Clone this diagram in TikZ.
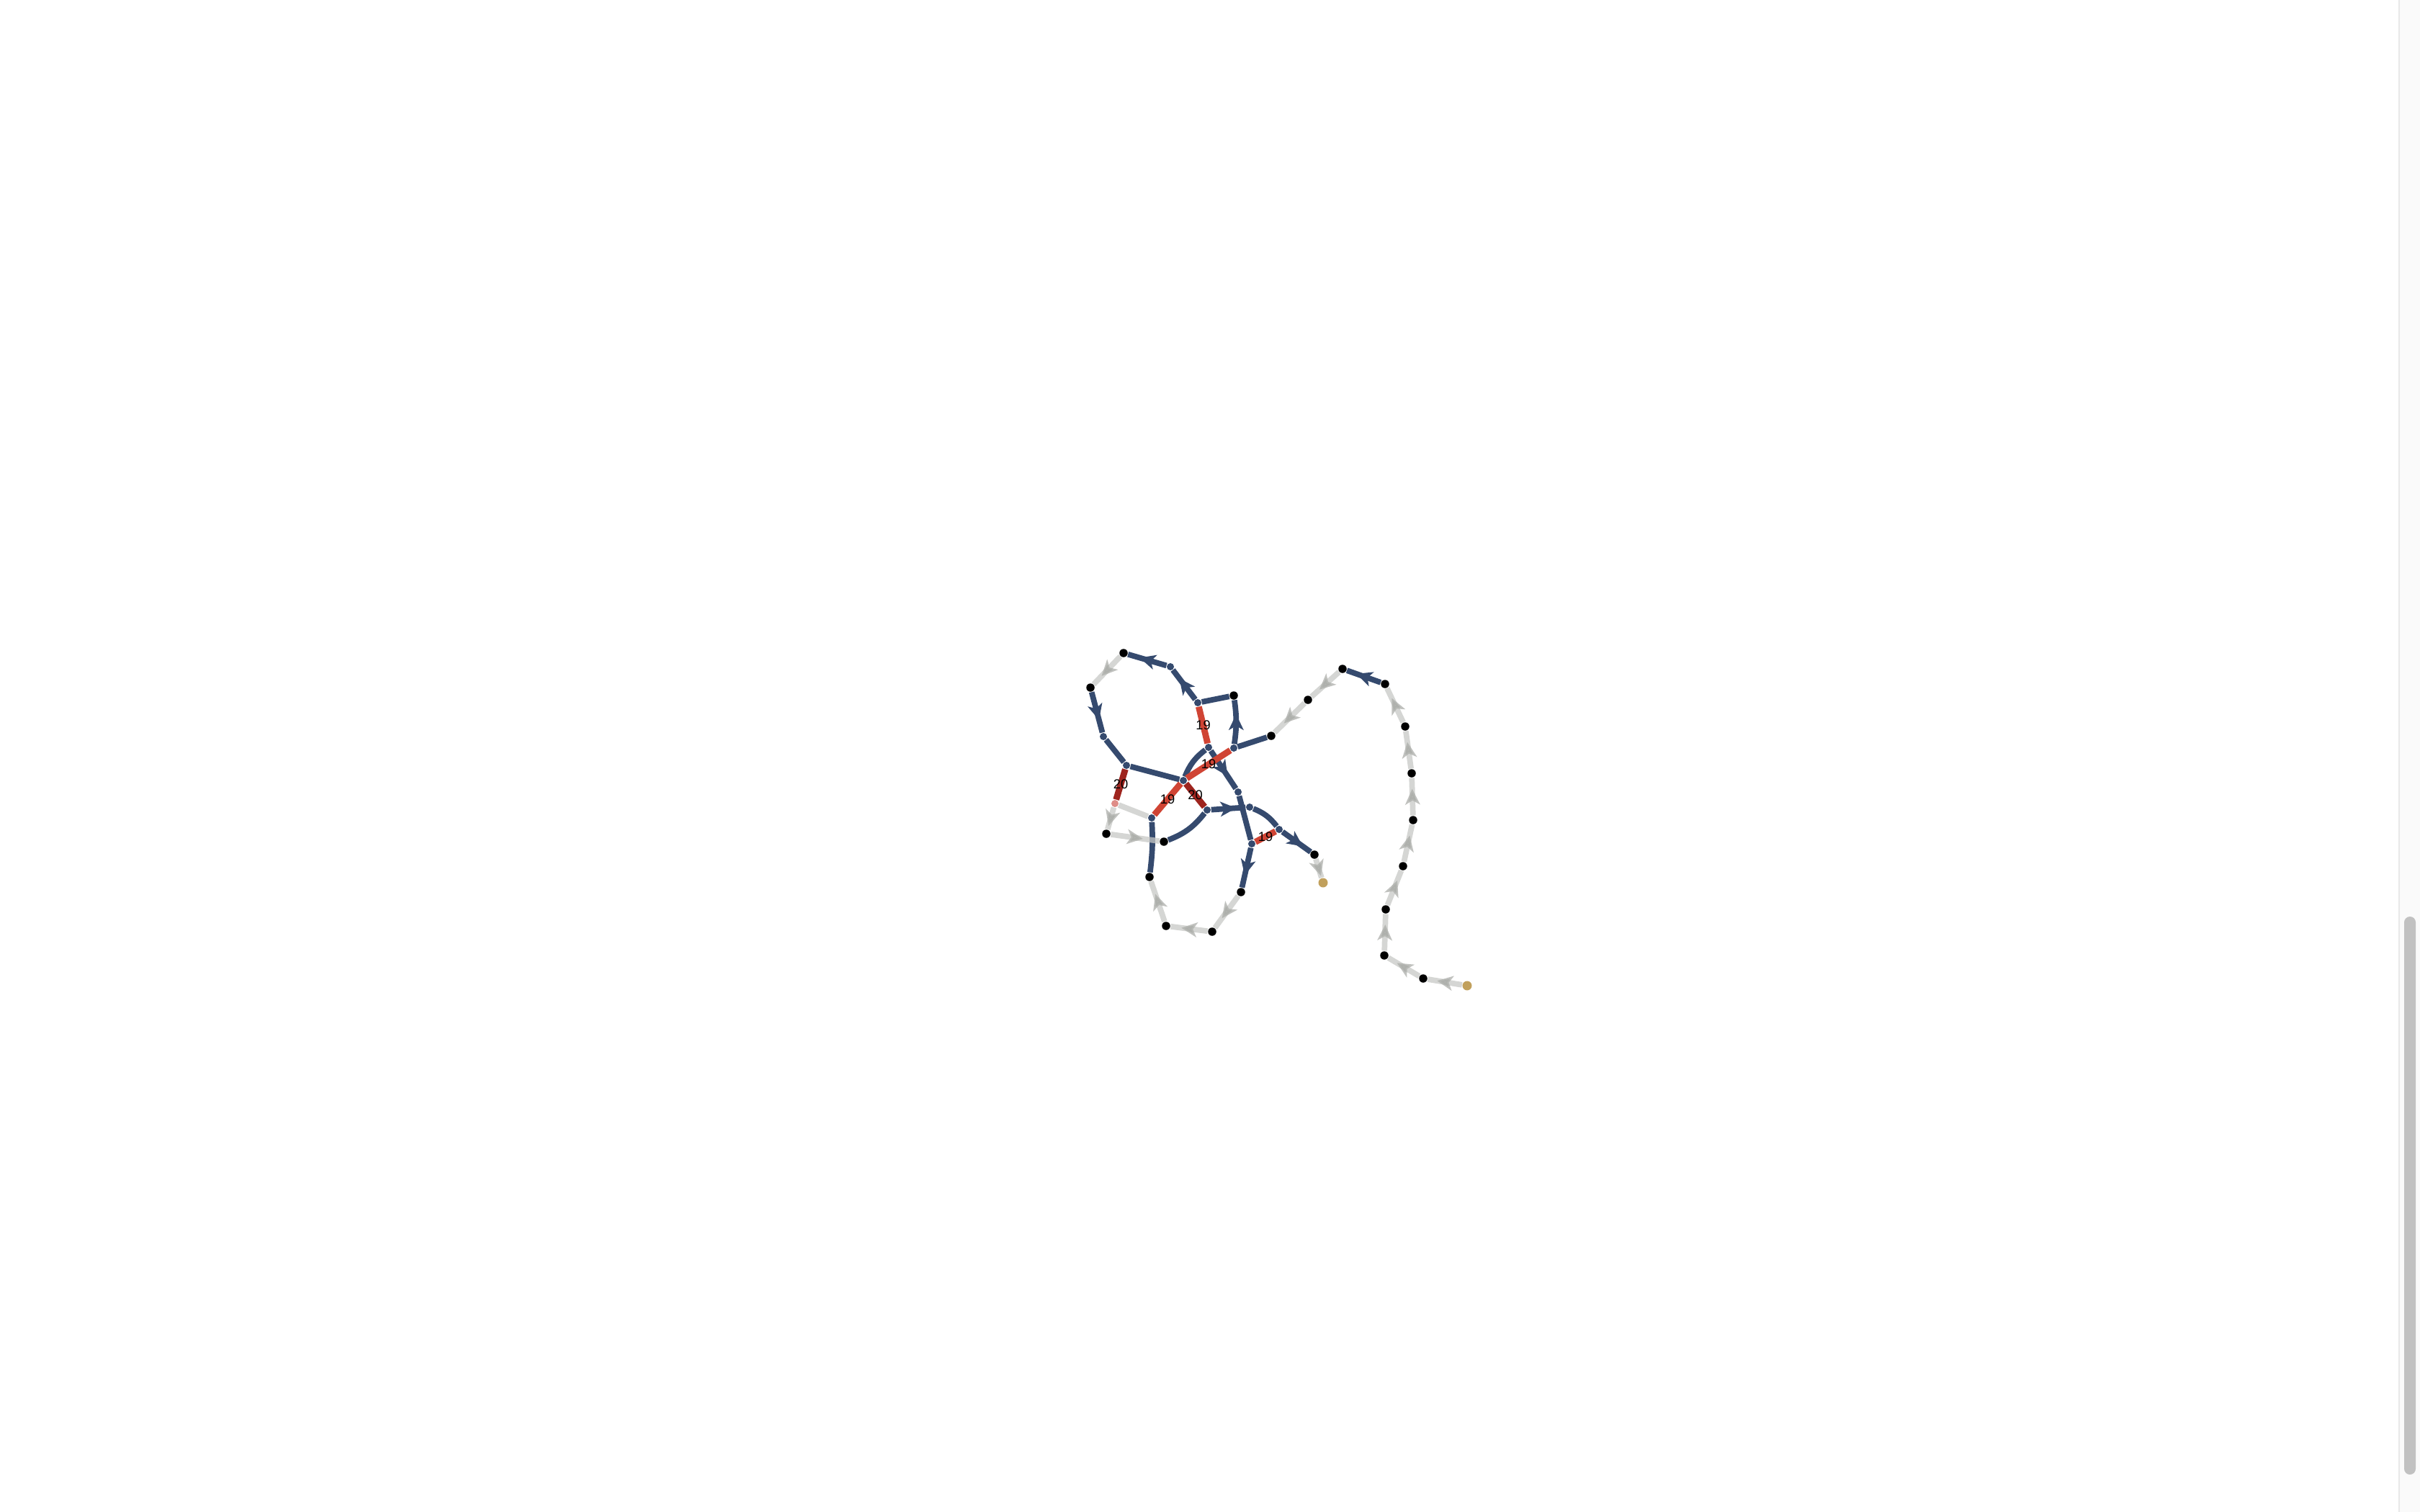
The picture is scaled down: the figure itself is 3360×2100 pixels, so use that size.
\documentclass[tikz,border=0pt]{standalone}
\usepackage{fontspec}
\setmainfont{Liberation Sans}
\usetikzlibrary{arrows.meta,decorations.markings,backgrounds}
\definecolor{roadblue}{RGB}{53,74,110}
\definecolor{hotred}{RGB}{208,68,52}
\definecolor{deepred}{RGB}{158,36,30}
\definecolor{fadegray}{RGB}{199,200,197}
\definecolor{tipgray}{RGB}{172,174,170}
\definecolor{goldish}{RGB}{193,160,92}
\definecolor{pinkish}{RGB}{222,140,135}
\definecolor{trackgray}{RGB}{250,250,250}
\definecolor{trackline}{RGB}{232,232,232}
\definecolor{thumbgray}{RGB}{193,193,193}
\begin{document}
\begin{tikzpicture}[x=0.01cm,y=-0.01cm,
  spot/.style={shape=circle,fill=black,inner sep=0pt,minimum size=0.115cm},
  joint/.style={shape=circle,fill=roadblue,inner sep=0pt,minimum size=0.1cm},
  endspot/.style={shape=circle,fill=goldish,inner sep=0pt,minimum size=0.13cm},
  road/.style={draw=roadblue,line width=2.2pt},
  hot/.style={draw=hotred,line width=2.5pt},
  deep/.style={draw=deepred,line width=2.5pt},
  faded/.style={draw=fadegray,line width=2.2pt,opacity=0.75},
  lbl/.style={font=\fontsize{5.2}{6}\selectfont,inner sep=0pt,text=black},
  tip/.style={postaction={decorate},decoration={markings,
    mark=at position 0.5 with {\arrow[xshift=3.1pt,#1]{Stealth[length=6.2pt,width=5.8pt,inset=1.6pt]}}}},
  tip/.default={}]
  \useasboundingbox (0,0) rectangle (3360,2100);
  % scrollbar
  \fill[trackgray] (3330,0) rectangle (3360,2100);
  \draw[trackline,line width=0.6pt] (3331,0) -- (3331,2100);
  \fill[thumbgray,rounded corners=0.08cm] (3338,1273) rectangle (3354,2048);
  % stops
  \node[spot] (a1) at (1560,907) {};
  \node[spot] (a2) at (1514,955) {};
  \node[spot] (a3) at (1713,966) {};
  \node[spot] (a4) at (1765,1022) {};
  \node[spot] (a5) at (1816,972) {};
  \node[spot] (a6) at (1864,929) {};
  \node[spot] (a7) at (1923,950) {};
  \node[spot] (a8) at (1951,1009) {};
  \node[spot] (a9) at (1960,1074) {};
  \node[spot] (a10) at (1962,1139) {};
  \node[spot] (a11) at (1948,1203) {};
  \node[spot] (a12) at (1924,1263) {};
  \node[spot] (a13) at (1922,1327) {};
  \node[spot] (a14) at (1976,1359) {};
  \node[endspot] (g2) at (2037,1369) {};
  \node[spot] (b1) at (1536,1158) {};
  \node[spot] (b2) at (1616,1169) {};
  \node[spot] (b3) at (1596,1218) {};
  \node[spot] (b4) at (1619,1286) {};
  \node[spot] (b5) at (1683,1294) {};
  \node[spot] (b6) at (1723,1239) {};
  \node[spot] (b7) at (1825,1187) {};
  \node[endspot] (g1) at (1837,1226) {};
  % joints
  \node[joint] (j1) at (1663,976) {};
  \node[joint] (j2) at (1625,926) {};
  \node[joint] (j3) at (1532,1023) {};
  \node[joint] (j4) at (1564,1063) {};
  \node[joint] (j5) at (1643,1084) {};
  \node[joint] (j6) at (1678,1038) {};
  \node[joint] (j7) at (1713,1039) {};
  \node[joint] (j8) at (1719,1100) {};
  \node[joint] (j9) at (1735,1121) {};
  \node[joint] (j10) at (1776,1152) {};
  \node[joint] (j11) at (1738,1172) {};
  \node[joint] (j12) at (1676,1125) {};
  \node[joint] (j13) at (1599,1136) {};
  \node[joint,fill=pinkish] (p1) at (1548,1116) {};
  \begin{scope}[on background layer]
  % blue roads
  \path (j1) edge[road,tip] (j2);
  \path (j2) edge[road,tip] (a1);
  \path (a2) edge[road,tip] (j3);
  \path (j3) edge[road] (j4);
  \path (j4) edge[road] (j5);
  \path (j1) edge[road] (a3);
  \path (j7) edge[road,tip,bend right=8] (a3);
  \path (j7) edge[road] (a4);
  \path (a7) edge[road,tip] (a6);
  \path (j6) edge[road,bend right=15] (j5);
  \path (j6) edge[road,tip] (j8);
  \path (j8) edge[road] (j11);
  \path (j11) edge[road,tip] (b6);
  \path (j12) edge[road,tip] (j9);
  \path (j9) edge[road,bend left=15] (j10);
  \path (j10) edge[road,tip] (b7);
  \path (b2) edge[road,bend right=15] (j12);
  \path (j13) edge[road,bend left=5] (b3);
  % red roads
  \path (j1) edge[hot] node[lbl] {19} (j6);
  \path (j7) edge[hot] node[lbl] {19} (j5);
  \path (j5) edge[hot] node[lbl] {19} (j13);
  \path (j5) edge[deep] node[lbl] {20} (j12);
  \path (j4) edge[deep] node[lbl] {20} (p1);
  \path (j11) edge[hot] node[lbl] {19} (j10);
  % grey roads
  \path (a1) edge[faded,tip=tipgray] (a2);
  \path (a5) edge[faded,tip=tipgray] (a4);
  \path (a6) edge[faded,tip=tipgray] (a5);
  \path (g2) edge[faded,tip=tipgray] (a14);
  \path (a14) edge[faded,tip=tipgray] (a13);
  \path (a13) edge[faded,tip=tipgray] (a12);
  \path (a12) edge[faded,tip=tipgray] (a11);
  \path (a11) edge[faded,tip=tipgray] (a10);
  \path (a10) edge[faded,tip=tipgray] (a9);
  \path (a9) edge[faded,tip=tipgray] (a8);
  \path (a8) edge[faded,tip=tipgray] (a7);
  \path (j13) edge[faded] (p1);
  \path (p1) edge[faded,tip=tipgray] (b1);
  \path (b1) edge[faded,tip=tipgray] (b2);
  \path (b6) edge[faded,tip=tipgray] (b5);
  \path (b5) edge[faded,tip=tipgray] (b4);
  \path (b4) edge[faded,tip=tipgray] (b3);
  \path (b7) edge[faded,tip=tipgray] (g1);
  \end{scope}
\end{tikzpicture}
\end{document}
